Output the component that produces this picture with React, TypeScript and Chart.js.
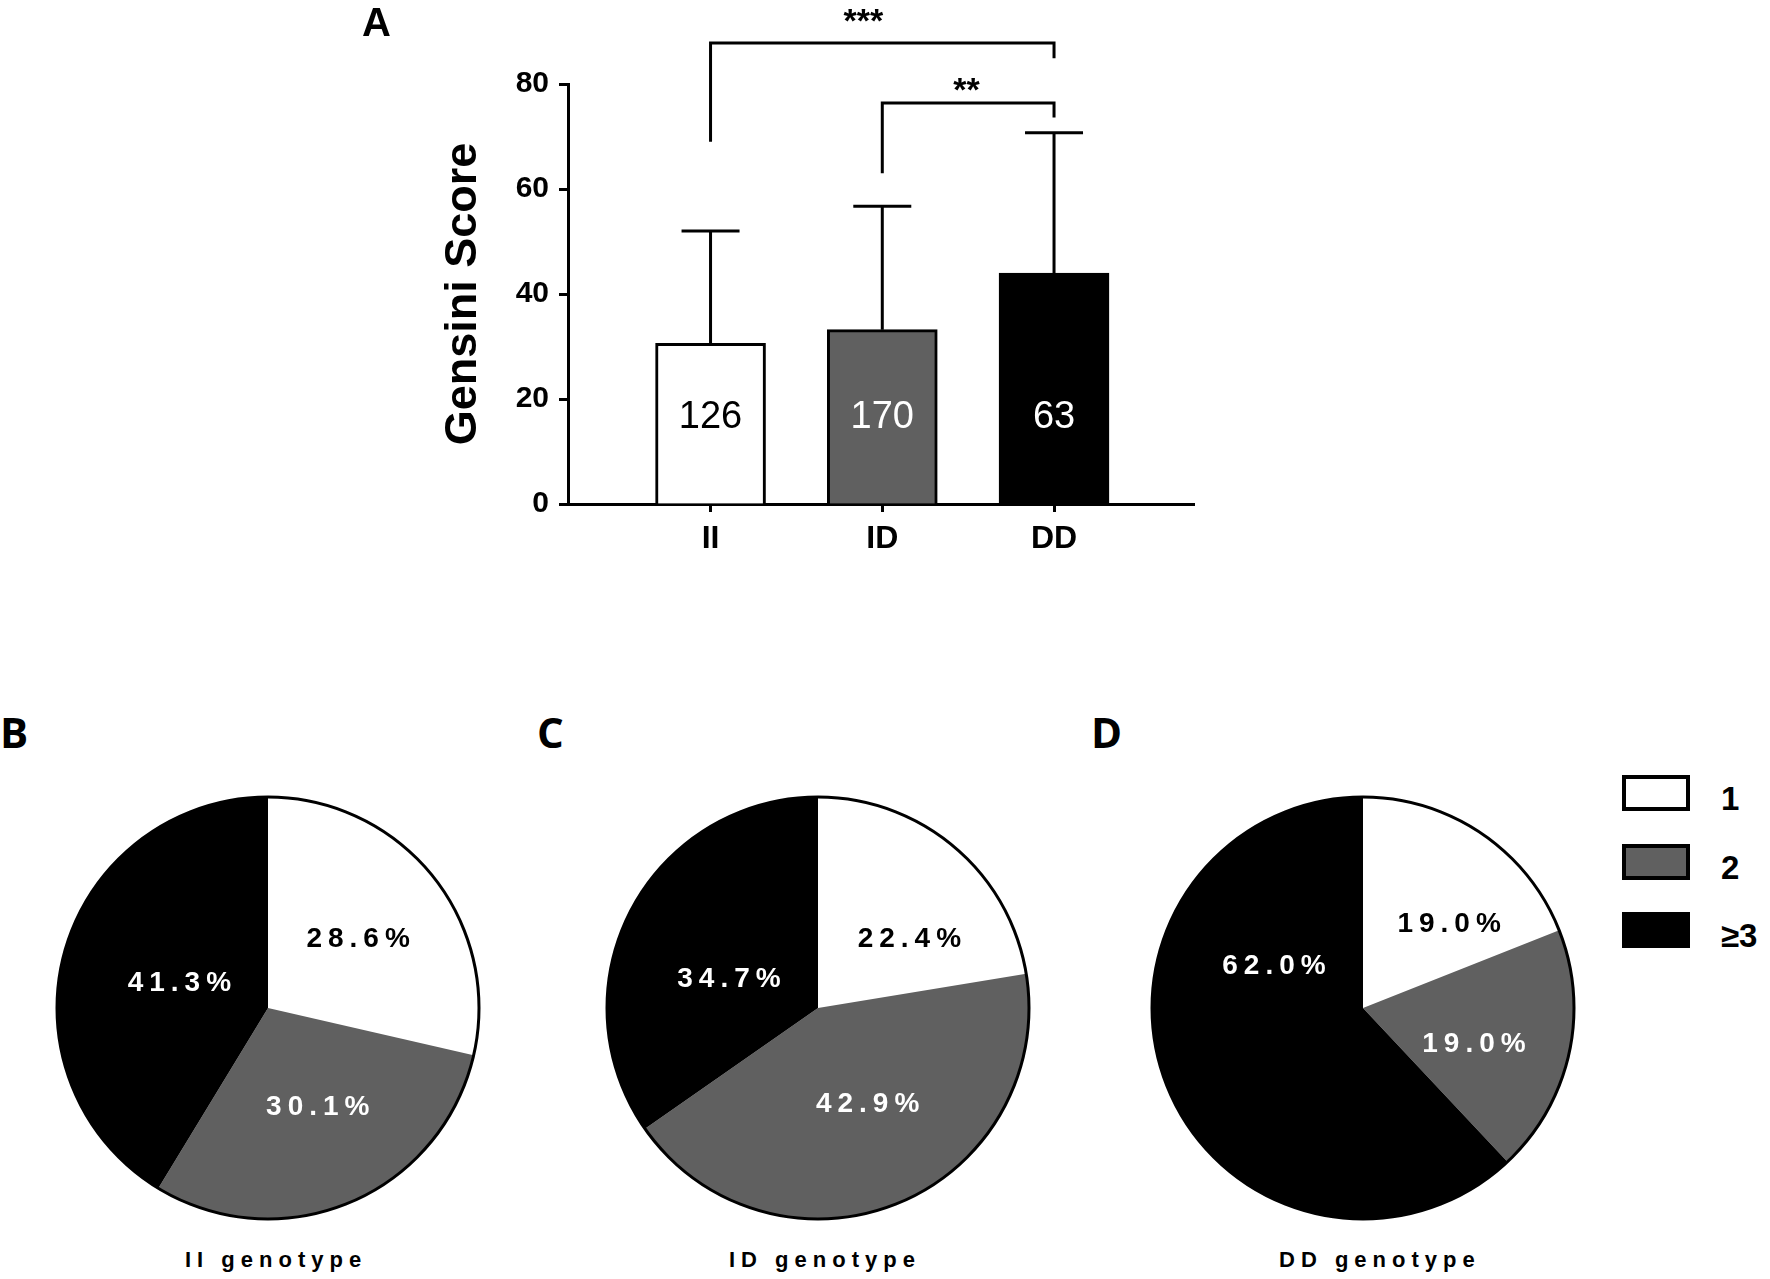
import React, { useEffect, useRef } from 'react';
import { Chart, registerables } from 'chart.js';

Chart.register(...registerables);

// ---------- data ----------
const GENOTYPES = ['II', 'ID', 'DD'];
const GENSINI_MEAN = [30.6, 33.2, 44.0];
const GENSINI_SD = [21.4, 23.5, 26.7];
const GROUP_N = [126, 170, 63];
const Y_TICKS = [0, 20, 40, 60, 80];

const BRACKET_FROM = [0, 1];
const BRACKET_TO = [2, 2];
const BRACKET_LABEL = ['***', '**'];
const BRACKET_TOP = [87.8, 76.4];
const BRACKET_LEFT_END = [69.0, 63.0];
const BRACKET_RIGHT_END = [84.9, 73.6];

const VESSEL_CATEGORIES = ['1', '2', '≥3'];
const PIE_II = [28.6, 30.1, 41.3];
const PIE_ID = [22.4, 42.9, 34.7];
const PIE_DD = [19.0, 19.0, 62.0];
const PIE_CAPTIONS = ['II genotype', 'ID genotype', 'DD genotype'];

// ---------- styles ----------
const FONT = "'Liberation Sans', Arial, Helvetica, sans-serif";
const LETTER_FONT = "'Open Sans', 'Liberation Sans', Arial, sans-serif";
const GRAY = '#606060';
const COLORS = ['#ffffff', GRAY, '#000000'];
const TEXT_ON = ['#000000', '#ffffff', '#ffffff'];

// bracket label placement (x in category units, y in score units)
const BRACKET_LABEL_X = [0.89, 1.49];
const BRACKET_LABEL_Y = [91.6, 78.5];
const N_LABEL_Y = 16.5;

// pie label placement (fraction of radius from centre)
const PIE_LABEL_POS = [
  [[0.427, -0.325], [0.236, 0.472], [-0.42, -0.116]],
  [[0.433, -0.327], [0.235, 0.455], [-0.422, -0.135]],
  [[0.408, -0.396], [0.526, 0.173], [-0.422, -0.197]],
];
const PIE_CENTERS_X = [268, 818, 1363];
const PIE_CENTER_Y = 1008;
const CAPTION_LEFT = [185, 729, 1279];

const errorBarPlugin = {
  id: 'errorBars',
  afterDatasetsDraw(chart: any) {
    const { ctx } = chart;
    const meta = chart.getDatasetMeta(0);
    const yScale = chart.scales.y;
    ctx.save();
    ctx.strokeStyle = '#000';
    ctx.lineWidth = 3;
    meta.data.forEach((bar: any, i: number) => {
      const yTop = yScale.getPixelForValue(GENSINI_MEAN[i] + GENSINI_SD[i]);
      ctx.beginPath();
      ctx.moveTo(bar.x, bar.y);
      ctx.lineTo(bar.x, yTop);
      ctx.moveTo(bar.x - 29, yTop);
      ctx.lineTo(bar.x + 29, yTop);
      ctx.stroke();
    });
    // n labels
    ctx.font = `38px ${FONT}`;
    ctx.textAlign = 'center';
    ctx.textBaseline = 'middle';
    meta.data.forEach((bar: any, i: number) => {
      ctx.fillStyle = TEXT_ON[i];
      ctx.fillText(String(GROUP_N[i]), bar.x, yScale.getPixelForValue(N_LABEL_Y));
    });
    // significance brackets
    const xScale = chart.scales.x;
    ctx.strokeStyle = '#000';
    ctx.lineWidth = 3;
    ctx.lineCap = 'butt';
    BRACKET_FROM.forEach((from, k) => {
      const x1 = xScale.getPixelForValue(from);
      const x2 = xScale.getPixelForValue(BRACKET_TO[k]);
      const yt = yScale.getPixelForValue(BRACKET_TOP[k]);
      ctx.beginPath();
      ctx.moveTo(x1, yScale.getPixelForValue(BRACKET_LEFT_END[k]));
      ctx.lineTo(x1, yt);
      ctx.lineTo(x2, yt);
      ctx.lineTo(x2, yScale.getPixelForValue(BRACKET_RIGHT_END[k]));
      ctx.stroke();
      ctx.fillStyle = '#000';
      ctx.font = `bold 34px ${FONT}`;
      ctx.fillText(
        BRACKET_LABEL[k],
        xScale.getPixelForValue(BRACKET_LABEL_X[k]),
        yScale.getPixelForValue(BRACKET_LABEL_Y[k])
      );
    });
    ctx.restore();
  },
};

function BarChart() {
  const ref = useRef<HTMLCanvasElement>(null);
  useEffect(() => {
    if (!ref.current) return;
    const chart = new Chart(ref.current, {
      type: 'bar',
      data: {
        datasets: [
          {
            data: GENOTYPES.map((_, i) => ({ x: i, y: GENSINI_MEAN[i] })) as any,
            backgroundColor: COLORS,
            borderColor: '#000',
            borderWidth: 3,
            barThickness: 110,
          },
        ],
      },
      options: {
        responsive: false,
        animation: false,
        devicePixelRatio: 1,
        events: [],
        layout: { padding: { left: 0, right: 36, top: 84, bottom: 36 } },
        plugins: { legend: { display: false }, tooltip: { enabled: false } },
        scales: {
          x: {
            type: 'linear',
            min: -0.83,
            max: 2.815,
            offset: false,
            afterBuildTicks: (s: any) => {
              s.ticks = GENOTYPES.map((_, i) => ({ value: i }));
            },
            afterFit: (s: any) => {
              s.height = 60;
            },
            ticks: {
              autoSkip: false,
              maxRotation: 0,
              padding: 8,
              color: '#000',
              font: { family: FONT, size: 32, weight: 'bold' },
              callback: (v: any) => GENOTYPES[Number(v)] ?? '',
            },
            grid: {
              offset: false,
              drawOnChartArea: false,
              drawTicks: true,
              tickLength: 8,
              tickWidth: 3,
              color: '#000',
              tickColor: '#000',
            },
            border: { display: true, color: '#000', width: 3 },
          },
          y: {
            type: 'linear',
            min: 0,
            max: 80,
            afterBuildTicks: (s: any) => {
              s.ticks = Y_TICKS.map((v) => ({ value: v }));
            },
            afterFit: (s: any) => {
              s.width = 238;
            },
            ticks: {
              padding: 10,
              color: '#000',
              font: { family: FONT, size: 30, weight: 'bold' },
            },
            grid: {
              drawOnChartArea: false,
              drawTicks: true,
              tickLength: 9,
              tickWidth: 3,
              color: '#000',
              tickColor: '#000',
            },
            border: { display: true, color: '#000', width: 3 },
            title: {
              display: true,
              text: 'Gensini Score',
              color: '#000',
              font: { family: FONT, size: 45, weight: 'bold' },
              padding: { top: 107, bottom: 0 },
            },
          },
        },
      } as any,
      plugins: [errorBarPlugin],
    });
    return () => chart.destroy();
  }, []);
  return (
    <canvas
      ref={ref}
      width={900}
      height={600}
      style={{ position: 'absolute', left: 330, top: 0, width: 900, height: 600 }}
    />
  );
}

function PieChart({ values, idx }: { values: number[]; idx: number }) {
  const ref = useRef<HTMLCanvasElement>(null);
  useEffect(() => {
    if (!ref.current) return;
    const piePlugin = {
      id: 'pieDecor' + idx,
      afterDatasetsDraw(chart: any) {
        const { ctx } = chart;
        const arcs = chart.getDatasetMeta(0).data;
        const a0 = arcs[0];
        ctx.save();
        ctx.beginPath();
        ctx.arc(a0.x, a0.y, a0.outerRadius, 0, Math.PI * 2);
        ctx.lineWidth = 3;
        ctx.strokeStyle = '#000';
        ctx.stroke();
        ctx.font = `bold 28px ${FONT}`;
        (ctx as any).letterSpacing = '6px';
        ctx.textAlign = 'center';
        ctx.textBaseline = 'middle';
        arcs.forEach((arc: any, i: number) => {
          const [fx, fy] = PIE_LABEL_POS[idx][i];
          ctx.fillStyle = TEXT_ON[i];
          ctx.fillText(
            values[i].toFixed(1) + '%',
            arc.x + fx * arc.outerRadius + 3,
            arc.y + fy * arc.outerRadius
          );
        });
        ctx.restore();
      },
    };
    const chart = new Chart(ref.current, {
      type: 'pie',
      data: {
        labels: VESSEL_CATEGORIES,
        datasets: [
          {
            data: values,
            backgroundColor: COLORS,
            borderWidth: 0,
            hoverOffset: 0,
          },
        ],
      },
      options: {
        responsive: false,
        animation: false,
        devicePixelRatio: 1,
        events: [],
        layout: { padding: 9 },
        plugins: { legend: { display: false }, tooltip: { enabled: false } },
      } as any,
      plugins: [piePlugin],
    });
    return () => chart.destroy();
  }, [values, idx]);
  return (
    <canvas
      ref={ref}
      width={440}
      height={440}
      style={{
        position: 'absolute',
        left: PIE_CENTERS_X[idx] - 220,
        top: PIE_CENTER_Y - 220,
        width: 440,
        height: 440,
      }}
    />
  );
}

const letterStyle = (left: number, top: number, family: string, size: number): React.CSSProperties => ({
  position: 'absolute',
  left,
  top,
  fontFamily: family,
  fontWeight: 'bold',
  fontSize: size,
  lineHeight: `${size}px`,
  color: '#000',
  margin: 0,
  whiteSpace: 'nowrap',
});

export default function App() {
  const pies = [PIE_II, PIE_ID, PIE_DD];
  const legendTops = [775, 844, 912];
  return (
    <div
      style={{
        position: 'absolute',
        left: 0,
        top: 0,
        width: 1770,
        height: 1279,
        background: '#fff',
        overflow: 'hidden',
      }}
    >
      <BarChart />
      {pies.map((v, i) => (
        <PieChart key={i} values={v} idx={i} />
      ))}
      <div style={letterStyle(362, 2, FONT, 40)}>A</div>
      <div style={letterStyle(0, 711, LETTER_FONT, 42)}>B</div>
      <div style={letterStyle(537, 711, LETTER_FONT, 42)}>C</div>
      <div style={letterStyle(1091, 711, LETTER_FONT, 42)}>D</div>
      {PIE_CAPTIONS.map((c, i) => (
        <div key={c} style={{ ...letterStyle(CAPTION_LEFT[i], 1249, FONT, 22), letterSpacing: '6px' }}>
          {c}
        </div>
      ))}
      {VESSEL_CATEGORIES.map((c, i) => (
        <React.Fragment key={c}>
          <div
            style={{
              position: 'absolute',
              left: 1622,
              top: legendTops[i],
              width: 68,
              height: 36,
              boxSizing: 'border-box',
              border: '4px solid #000',
              background: COLORS[i],
            }}
          />
          <div style={letterStyle(1721, legendTops[i] + 7, FONT, 33)}>{c}</div>
        </React.Fragment>
      ))}
    </div>
  );
}
